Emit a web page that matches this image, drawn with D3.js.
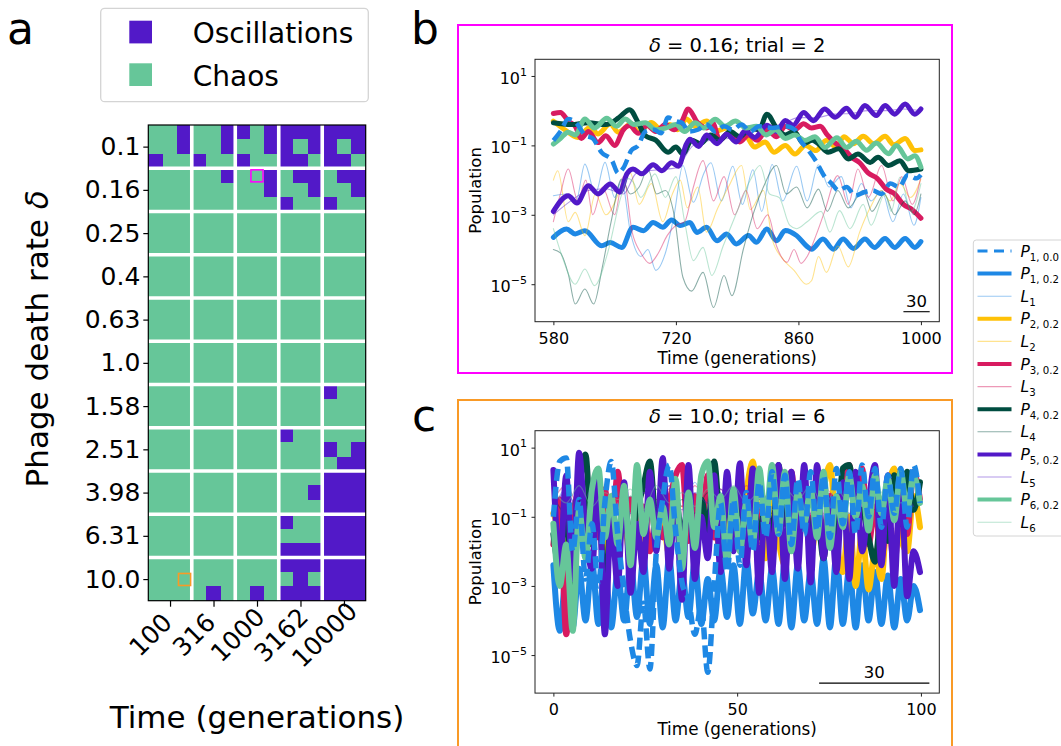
<!DOCTYPE html>
<html>
<head>
<meta charset="utf-8">
<script src="https://cdn.jsdelivr.net/npm/d3@7"></script>
<style>
  body { margin: 0; background: #fff; }
  svg { font-family: "DejaVu Sans", sans-serif; }
</style>
</head>
<body>
<svg id="fig" width="1061" height="746"></svg>
<script>
// ---------------- data ----------------
const deltaLabels = ["0.1","0.16","0.25","0.4","0.63","1.0","1.58","2.51","3.98","6.31","10.0"];
const timeLabels = ["100","316","1000","3162","10000"];

// 3x3 trials per (delta, time) block; 1 = oscillations, 0 = chaos
const regimeRows = [
  "001001101111111","001001001101101","100100100110110",
  "000001001011011","000000001001001","000000000100100",
  "000000000000000","000000000000000","000000000000000",
  "000000000000000","000000000000000","000000000000000",
  "000000000000000","000000000000000","000000000000000",
  "000000000000000","000000000000000","000000000000000",
  "000000000000100","000000000000000","000000000000000",
  "000000000100000","000000000000101","000000000000011",
  "000000000000111","000000000001111","000000000000111",
  "000000000100111","000000000000111","000000000111111",
  "000000000111111","000000000010111","000010010111111"
];

const runB = { delta: "0.16", time: "1000", trial: 2 };
const runC = { delta: "10.0", time: "100", trial: 6 };

// panel b: [generation, log10 population]
const P1_00_b = [[580,-0.86],[588,-0.6],[597,-0.24],[606,-0.35],[616,-0.7],[625,-0.8],[635,-1.2],[647,-1.44],[654,-1.8],[660,-1.65],[669,-1.15],[677,-1.0],[685,-0.6],[695,-0.55],[703,-0.65],[711,-0.2],[720,-0.3],[727,-0.35],[735,-0.6],[745,-0.55],[755,-0.4],[765,-0.6],[775,-0.45],[785,-0.55],[795,-0.4],[805,-0.6],[815,-0.45],[830,-0.5],[845,-0.45],[856,-0.55],[862,-0.85],[870,-1.1],[880,-1.45],[890,-1.9],[898,-2.1],[906,-2.3],[915,-2.2],[925,-2.45],[935,-2.35],[945,-2.3],[955,-2.4],[965,-2.1],[975,-2.2],[985,-1.85],[995,-1.95],[1000,-1.85]];
const P1_b = [[580,-3.65],[595,-3.41],[605,-3.55],[616,-3.46],[635,-3.89],[645,-3.8],[658,-3.94],[671,-3.36],[683,-3.46],[694,-3.22],[705,-3.36],[715,-3.15],[725,-3.31],[736,-3.22],[744,-3.51],[755,-3.36],[767,-3.75],[778,-3.55],[789,-3.84],[803,-3.6],[812,-3.79],[824,-3.41],[835,-3.75],[845,-3.45],[858,-3.6],[869,-3.89],[875,-3.99],[888,-3.7],[900,-3.99],[911,-3.7],[923,-3.97],[936,-3.7],[947,-3.94],[959,-3.68],[970,-3.94],[982,-3.68],[993,-3.94],[1000,-3.77]];
const P2_b = [[580,-0.3],[593,-0.55],[608,-0.77],[622,-0.48],[631,-0.67],[645,-0.38],[654,-0.62],[669,-0.38],[677,-0.62],[692,-0.34],[702,-0.53],[713,-0.4],[722,-0.55],[732,-0.24],[742,-0.45],[755,-0.3],[767,-0.58],[778,-0.5],[789,-0.8],[800,-0.75],[810,-1.05],[822,-0.9],[832,-1.2],[845,-1.0],[856,-1.25],[868,-1.0],[880,-1.15],[892,-0.85],[903,-1.05],[912,-0.75],[923,-0.95],[934,-0.74],[946,-0.95],[959,-0.74],[969,-0.98],[982,-0.8],[993,-1.15],[1000,-1.13]];
const P3_b = [[580,-0.08],[588,-0.05],[597,-0.3],[605,-0.45],[612,-0.8],[620,-0.6],[631,-0.92],[640,-0.72],[650,-1.0],[660,-0.55],[667,-0.43],[677,-0.65],[687,-0.43],[697,-0.6],[708,-0.4],[718,-0.55],[727,-0.3],[734,0.05],[745,-0.35],[755,-0.5],[762,-0.35],[770,-0.85],[780,-0.65],[793,-0.9],[803,-0.7],[813,-0.85],[824,-0.55],[835,-0.75],[845,-0.45],[856,-0.55],[866,-0.38],[875,-0.5],[885,-0.45],[893,-0.7],[903,-0.95],[912,-1.1],[921,-1.35],[930,-1.5],[940,-1.8],[950,-1.95],[960,-2.25],[970,-2.4],[980,-2.7],[990,-2.85],[1000,-3.1]];
const P4_b = [[580,-0.35],[600,-0.4],[620,-0.35],[640,-0.4],[655,-0.2],[667,0.03],[677,-0.35],[685,-0.72],[697,-0.85],[711,-1.2],[720,-1.05],[728,-1.25],[738,-0.85],[748,-0.95],[760,-0.7],[770,-0.85],[782,-0.6],[793,-0.75],[805,-0.5],[815,-0.55],[824,-0.1],[835,-0.5],[845,-0.7],[855,-0.6],[866,-0.95],[876,-0.85],[883,-0.96],[894,-1.2],[906,-1.1],[917,-1.39],[928,-1.25],[942,-1.49],[951,-1.34],[963,-1.58],[976,-1.44],[986,-1.73],[1000,-1.68]];
const P5_b = [[580,-2.9],[597,-2.45],[607,-2.66],[620,-2.16],[631,-2.4],[645,-2.11],[656,-2.35],[664,-1.82],[671,-1.68],[681,-1.82],[694,-1.56],[704,-1.73],[715,-1.5],[723,-1.6],[732,-0.96],[736,-0.82],[746,-1.03],[755,-0.7],[767,-0.95],[778,-0.68],[789,-0.9],[799,-0.58],[810,-0.77],[824,-0.42],[835,-0.6],[845,-0.28],[854,-0.42],[866,-0.05],[877,-0.29],[890,0.05],[902,-0.19],[915,0.07],[925,-0.19],[936,0.15],[949,-0.14],[959,0.15],[970,-0.1],[982,0.19],[993,-0.1],[1000,0.05]];
const P6_b = [[580,-0.96],[588,-0.8],[597,-0.62],[605,-0.7],[616,-0.24],[627,-0.5],[641,-0.22],[652,-0.45],[662,-0.24],[672,-0.4],[685,-0.35],[697,-0.55],[708,-0.5],[720,-0.4],[730,-0.6],[742,-0.35],[752,-0.5],[765,-0.25],[776,-0.45],[788,-0.3],[800,-0.5],[812,-0.45],[823,-0.7],[834,-0.55],[845,-0.8],[856,-0.7],[867,-0.86],[879,-0.75],[890,-1.06],[904,-0.78],[915,-1.06],[926,-0.88],[938,-1.14],[949,-0.93],[963,-1.24],[972,-1.0],[985,-1.39],[993,-1.3],[1000,-1.63]];
const L1_b = [[580,-2.45],[595,-2.4],[606,-2.6],[616,-1.54],[628,-2.4],[639,-1.49],[650,-2.5],[658,-2.0],[668,-3.5],[680,-4.2],[688,-4.0],[697,-4.6],[708,-4.1],[718,-3.0],[728,-1.58],[740,-2.64],[752,-1.8],[760,-1.5],[772,-2.6],[785,-1.6],[796,-2.7],[808,-1.7],[818,-2.9],[830,-1.55],[842,-2.6],[858,-1.6],[870,-2.6],[883,-1.56],[895,-2.2],[909,-1.9],[920,-2.8],[932,-2.1],[943,-2.6],[955,-2.3],[968,-3.2],[980,-2.4],[992,-3.3],[1000,-2.5]];
const L2_b = [[580,-2.0],[585,-1.73],[597,-3.2],[605,-2.93],[616,-3.6],[628,-2.4],[640,-3.0],[668,-1.8],[678,-2.7],[692,-2.1],[705,-3.2],[716,-2.4],[725,-2.0],[733,-2.8],[745,-2.2],[755,-3.5],[768,-2.8],[780,-2.2],[795,-1.58],[805,-2.85],[820,-2.3],[830,-3.7],[843,-4.3],[855,-4.6],[869,-5.0],[875,-4.9],[883,-4.2],[892,-4.66],[905,-3.9],[917,-4.5],[930,-3.5],[942,-2.8],[955,-2.3],[965,-2.6],[976,-2.1],[988,-2.5],[1000,-1.97]];
const L3_b = [[580,-3.2],[588,-2.4],[597,-1.68],[608,-2.6],[617,-2.0],[625,-3.0],[636,-2.2],[650,-3.0],[660,-1.9],[670,-3.5],[680,-4.1],[690,-4.4],[700,-4.1],[710,-3.6],[720,-3.3],[730,-3.2],[740,-2.2],[751,-1.44],[763,-2.6],[775,-1.9],[787,-3.0],[800,-2.3],[813,-3.4],[825,-3.0],[835,-3.9],[847,-4.37],[855,-4.0],[863,-4.4],[870,-4.2],[880,-3.6],[890,-2.9],[905,-1.87],[917,-2.7],[928,-1.68],[940,-2.5],[955,-1.58],[968,-2.6],[978,-1.9],[990,-2.7],[1000,-1.9]];
const L4_b = [[580,-4.0],[588,-4.1],[597,-4.7],[605,-5.57],[616,-5.14],[626,-5.57],[636,-4.5],[646,-3.2],[658,-1.97],[668,-2.4],[678,-2.2],[688,-1.68],[698,-2.4],[708,-2.3],[718,-3.0],[728,-4.8],[738,-5.2],[751,-4.66],[763,-5.67],[775,-4.75],[784,-5.33],[797,-4.0],[808,-3.0],[820,-2.2],[835,-1.58],[846,-2.4],[858,-2.2],[870,-2.8],[883,-2.26],[893,-2.9],[905,-2.3],[917,-2.8],[934,-2.3],[944,-2.9],[958,-2.4],[970,-3.0],[982,-2.6],[992,-3.0],[1000,-2.4]];
const L5_b = [[580,-3.0],[600,-2.6],[620,-2.3],[640,-2.25],[660,-2.4],[675,-1.8],[700,-1.7],[720,-1.65],[740,-1.0],[760,-0.85],[780,-0.8],[800,-0.7],[820,-0.5],[840,-0.4],[860,-0.2],[880,-0.2],[900,-0.1],[920,-0.08],[940,0.0],[960,0.0],[980,0.05],[1000,0.0]];
const L6_b = [[580,-3.4],[590,-4.2],[605,-5.0],[616,-4.56],[627,-5.04],[642,-4.1],[657,-2.5],[665,-1.95],[671,-2.05],[680,-2.5],[696,-1.82],[708,-2.5],[720,-1.9],[730,-3.2],[740,-4.32],[751,-3.94],[761,-4.75],[774,-3.9],[790,-2.9],[805,-2.0],[816,-1.58],[827,-2.4],[838,-2.5],[850,-3.3],[858,-3.4],[870,-3.2],[886,-2.9],[896,-3.5],[907,-2.88],[919,-3.4],[934,-2.7],[943,-3.3],[959,-2.4],[966,-2.9],[976,-1.92],[989,-2.9],[1000,-2.1]];

// panel c: log10 population at the sampled generations
const timeC = [0,1.75,3.5,5.25,7,8.75,10.5,12.25,14,15.75,17.5,19.25,21,22.75,24.5,26.25,28,29.75,31.5,33.25,35,36.75,38.5,40.25,42,43.75,45.5,47.25,49,50.75,52.5,54.25,56,57.75,59.5,61.25,63,64.75,66.5,68.25,70,71.75,73.5,75.25,77,78.75,80.5,82.25,84,85.75,87.5,89.25,91,92.75,94.5,96.25,98,99.75];
const timeCthin = [0,3.5,7,10.5,14,17.5,21,24.5,28,31.5,35,38.5,42,45.5,49,52.5,56,59.5,63,66.5,70,73.5,77,80.5,84,87.5,91,94.5,98];
const P1_00_c = [-1.0,0.6,0.7,-2.0,-0.5,-2.8,-1.2,-3.0,-0.6,0.6,-1.5,-3.2,-4.6,-5.3,-3.5,-5.4,-2.0,-0.5,0.5,-1.4,-2.9,-3.4,-4.4,-3.6,-5.5,-3.0,-0.6,-2.6,-0.5,-2.4,-0.3,-2.0,0.0,-1.6,0.3,-1.5,0.2,-1.8,0.1,-1.5,0.3,-1.4,0.2,-1.6,0.4,-1.2,0.3,-1.5,0.5,-1.0,0.4,-1.3,0.2,-0.9,0.4,-1.3,0.5,-0.6];
const P1_c = [-2.4,-4.3,-2.6,-4.2,-2.5,-4.0,-2.3,-4.1,-2.4,-4.2,-2.6,-4.0,-2.3,-3.9,-2.2,-4.1,-2.4,-4.2,-2.2,-4.0,-2.6,-3.9,-2.3,-4.1,-2.8,-4.0,-2.5,-3.9,-2.4,-4.1,-2.2,-3.8,-2.6,-4.0,-2.5,-4.1,-2.3,-4.2,-2.4,-4.0,-2.6,-4.1,-2.2,-4.2,-2.1,-4.1,-2.5,-4.2,-2.4,-4.0,-2.6,-4.1,-2.7,-4.2,-2.8,-4.0,-3.0,-3.7];
const P2_c = [-0.9,-1.4,-2.0,-1.0,-1.6,-0.8,-1.8,-1.0,-2.0,-0.9,-1.6,-1.2,-2.2,-1.0,-1.8,-0.6,-1.5,-1.1,-2.1,-0.8,-1.4,-0.9,-1.8,-1.0,-1.7,-1.1,-2.1,-1.3,-0.5,-1.9,-0.3,0.6,-1.4,-2.2,-0.5,-1.7,-2.4,-0.4,-1.2,-0.6,-2.1,-1.0,-0.2,0.5,-1.6,-2.6,-1.0,-3.0,-1.4,-3.1,-2.0,-2.8,-0.4,0.4,-1.6,-2.0,-0.4,-1.3];
const P3_c = [-1.8,-0.5,-4.4,-1.2,-0.3,-2.0,-0.8,-1.6,-0.2,-1.9,0.3,-1.4,-0.5,-1.2,-0.7,-2.0,-1.0,-1.6,-0.6,0.2,0.5,-1.7,-0.4,-1.3,0.2,-1.6,-0.9,-1.8,-1.1,-0.3,-1.6,0.3,-1.4,-0.6,-1.8,-0.5,-1.2,0.3,-1.6,-0.6,-1.4,-0.2,-1.8,-0.4,-1.6,-0.7,0.5,-1.2,0.4,-1.8,-0.7,-2.2,-1.0,-2.4,-0.6,-1.5,0.3,-0.5];
const P4_c = [-1.5,-2.5,-0.5,-3.4,-0.3,0.8,-1.8,-0.4,-3.2,-1.0,-2.2,-0.6,-1.6,-0.8,-0.1,0.6,-1.2,-0.6,-1.8,-0.4,-1.6,-0.7,-2.0,-0.5,-1.4,0.6,-1.2,-0.6,-1.5,-0.4,-1.8,-0.5,-1.6,-0.6,-1.7,0.5,-1.2,-0.6,-1.9,-0.5,-1.6,-0.9,-2.2,-0.6,-1.5,0.4,0.5,-1.0,-0.8,-1.6,-2.3,-0.9,-1.7,0.2,-1.2,0.3,-0.8,0.0];
const P5_c = [0.35,-2.4,0.2,-2.8,0.85,-1.5,-2.5,0.2,-4.4,-1.0,-3.0,0.0,-3.2,-1.2,-2.6,0.3,-2.0,0.7,-2.5,-0.4,-3.4,0.5,-2.8,-1.0,-2.2,0.2,-2.6,0.3,-2.0,0.55,-2.4,0.4,-3.2,-0.5,-2.6,0.5,-2.8,0.3,-2.5,0.5,-2.9,0.5,-2.2,-0.5,-2.6,0.0,-2.8,0.3,-2.0,-0.6,0.5,-2.4,0.2,-3.0,0.3,-3.3,-2.0,-2.6];
const P6_c = [-1.2,-3.0,-1.8,-4.3,-0.8,-2.2,-0.2,0.4,-1.6,-0.4,-1.8,-0.1,-2.4,0.5,-1.5,-0.5,-1.6,-0.7,-1.8,0.1,-2.5,-0.3,-1.9,0.2,0.6,-1.3,-0.4,-2.3,-0.2,-2.0,-0.6,-1.8,0.4,-1.2,0.5,-1.5,0.3,-2.0,-0.3,-1.2,-0.2,-1.6,0.3,-1.9,-0.4,-1.3,0.2,-1.0,-0.1,-1.4,0.2,-0.9,0.1,-1.1,0.3,-0.8,0.2,-0.6];
const L1_c = [-0.8,-0.2,-0.9,-0.1,-0.8,0.0,-0.9,-0.2,-1.0,-0.1,-0.7,0.0,-0.8,-0.3,-0.9,-0.1,-0.8,-0.2,-0.9,0.0,-0.7,-0.2,-0.9,-0.1,-0.8,-0.3,-1.0,-0.2,-0.6];
const L2_c = [-0.6,-1.0,-0.5,-1.1,-0.7,-0.9,-0.6,-1.2,-0.5,-1.0,-0.7,-1.1,-0.6,-0.9,-0.5,-1.0,-0.4,-0.8,-0.5,-1.1,-0.6,-0.9,-0.4,-1.0,-0.7,-1.2,-0.6,-0.9,-0.8];
const L3_c = [-0.5,-0.1,-0.7,-0.2,-0.6,-0.1,-0.8,-0.3,-0.5,-0.2,-0.7,-0.1,-0.6,-0.2,-0.8,-0.1,-0.5,-0.3,-0.6,-0.2,-0.7,-0.1,-0.5,-0.2,-0.6,-0.3,-0.8,-0.2,-0.5];
const L4_c = [-0.4,-0.9,-0.3,-1.0,-0.5,-0.8,-0.4,-0.9,-0.2,-1.0,-0.5,-0.9,-0.3,-0.8,-0.4,-1.0,-0.5,-0.9,-0.3,-0.8,-0.4,-1.1,-0.5,-0.9,-0.3,-0.8,-0.5,-1.0,-0.4];
const L5_c = [-0.7,-0.3,-0.8,-0.2,-0.6,-0.4,-0.9,-0.3,-0.7,-0.1,-0.8,-0.3,-0.6,-0.2,-0.7,-0.4,-0.8,-0.2,-0.6,-0.3,-0.9,-0.2,-0.7,-0.4,-0.6,-0.1,-0.8,-0.3,-0.7];
const L6_c = [-0.2,-0.6,-0.1,-0.7,-0.3,-0.5,-0.2,-0.8,-0.1,-0.6,-0.3,-0.7,-0.2,-0.5,-0.1,-0.6,-0.3,-0.8,-0.2,-0.5,-0.1,-0.7,-0.2,-0.6,-0.3,-0.5,-0.1,-0.6,-0.2];

const xTicksB = [580, 720, 860, 1000];
const xTicksC = [0, 50, 100];
const yTicksLog = [1, -1, -3, -5];

// ---------------- styling ----------------
const COL = { p1:"#1E88E5", p2:"#FFC107", p3:"#D81B60", p4:"#004D40", p5:"#5219C8", p6:"#66C699" };
const COL_OSC = "#5219C8", COL_CHAOS = "#66C699";
const MAGENTA = "#FF00FF", ORANGE = "#F99A26";

const svg = d3.select("#fig");

// panel letters
[["a", 7, 44], ["b", 411, 44], ["c", 412, 431]].forEach(([t, x, y]) =>
  svg.append("text").attr("x", x).attr("y", y).attr("font-size", 44).text(t));

// ---------------- panel a ----------------
const hmX = d3.scaleLinear().domain([0, 15]).range([148.3, 365.7]);
const hmY = d3.scaleLinear().domain([0, 33]).range([125, 600.7]);
const cells = [];
regimeRows.forEach((row, r) => row.split("").forEach((v, c) => cells.push({ r, c, osc: v === "1" })));

const gA = svg.append("g");
gA.selectAll("rect.cell").data(cells).join("rect")
  .attr("class", "cell")
  .attr("x", d => hmX(d.c)).attr("y", d => hmY(d.r))
  .attr("width", hmX(1) - hmX(0) + 0.5).attr("height", hmY(1) - hmY(0) + 0.5)
  .attr("fill", d => d.osc ? COL_OSC : COL_CHAOS)
  .attr("shape-rendering", "crispEdges");

// white separators between (delta, time) blocks
gA.selectAll("line.vsep").data(d3.range(1, timeLabels.length)).join("line")
  .attr("x1", d => hmX(3 * d)).attr("x2", d => hmX(3 * d))
  .attr("y1", hmY(0)).attr("y2", hmY(33))
  .attr("stroke", "#fff").attr("stroke-width", 3.6);
gA.selectAll("line.hsep").data(d3.range(1, deltaLabels.length)).join("line")
  .attr("y1", d => hmY(3 * d)).attr("y2", d => hmY(3 * d))
  .attr("x1", hmX(0)).attr("x2", hmX(15))
  .attr("stroke", "#fff").attr("stroke-width", 3.6);

// highlighted trials shown in panels b and c
[[runB, MAGENTA], [runC, ORANGE]].forEach(([run, color]) => {
  const r = deltaLabels.indexOf(run.delta) * 3 + Math.floor((run.trial - 1) / 3);
  const c = timeLabels.indexOf(run.time) * 3 + (run.trial - 1) % 3;
  gA.append("rect")
    .attr("x", hmX(c) + 1.2).attr("y", hmY(r) + 1.6)
    .attr("width", hmX(1) - hmX(0) - 2.4).attr("height", hmY(1) - hmY(0) - 2.4)
    .attr("fill", "none").attr("stroke", color).attr("stroke-width", 1.6);
});

gA.append("rect").attr("x", hmX(0)).attr("y", hmY(0))
  .attr("width", hmX(15) - hmX(0)).attr("height", hmY(33) - hmY(0))
  .attr("fill", "none").attr("stroke", "#000").attr("stroke-width", 1.2);

const deltaScale = d3.scalePoint().domain(deltaLabels).range([hmY(1.5), hmY(31.5)]);
const timeScale = d3.scalePoint().domain(timeLabels).range([hmX(1.5), hmX(13.5)]);

const axA_y = gA.append("g").attr("transform", `translate(${hmX(0)},0)`)
  .call(d3.axisLeft(deltaScale).tickSize(5).tickPadding(3));
axA_y.select(".domain").remove();
axA_y.selectAll("line").attr("stroke", "#000").attr("stroke-width", 1.2);
axA_y.selectAll("text").attr("font-size", 25).attr("font-family", "DejaVu Sans").attr("fill", "#000");

const axA_x = gA.append("g").attr("transform", `translate(0,${hmY(33)})`)
  .call(d3.axisBottom(timeScale).tickSize(6).tickFormat(""));
axA_x.select(".domain").remove();
axA_x.selectAll("line").attr("stroke", "#000").attr("stroke-width", 1.2);
axA_x.selectAll(".tick").append("text")
  .attr("transform", "translate(-20,34) rotate(-45)")
  .attr("text-anchor", "middle").attr("dy", "0.35em")
  .attr("font-size", 25).attr("font-family", "DejaVu Sans").attr("fill", "#000")
  .text(d => d);

gA.append("text").attr("x", (hmX(0) + hmX(15)) / 2).attr("y", 728)
  .attr("text-anchor", "middle").attr("font-size", 31).text("Time (generations)");
const yLab = gA.append("text").attr("transform", `translate(37,${(hmY(0) + hmY(33)) / 2 - 24}) rotate(-90)`)
  .attr("text-anchor", "middle").attr("dy", "0.35em").attr("font-size", 31);
yLab.append("tspan").text("Phage death rate ");
yLab.append("tspan").attr("font-style", "italic").text("δ");

// regime legend
const lgA = svg.append("g");
lgA.append("rect").attr("x", 100.7).attr("y", 8.3).attr("width", 267.6).attr("height", 93.4)
  .attr("rx", 4).attr("fill", "#fff").attr("stroke", "#d4d4d4").attr("stroke-width", 1.3);
[["Oscillations", COL_OSC, 20.7], ["Chaos", COL_CHAOS, 63.3]].forEach(([label, color, y]) => {
  lgA.append("rect").attr("x", 129.3).attr("y", y).attr("width", 22.7).attr("height", 22.7).attr("fill", color);
  lgA.append("text").attr("x", 192.7).attr("y", y + 22.5).attr("font-size", 28).text(label);
});

// ---------------- panels b and c ----------------
const PLOT = { left: 535, right: 939.3, height: 262.4 };

function drawPanel(cfg) {
  const g = svg.append("g");
  const top = cfg.top, bottom = cfg.top + PLOT.height;
  const x = d3.scaleLinear().domain(cfg.xDomain).range([PLOT.left, PLOT.right]);
  const y = d3.scaleLog().domain(cfg.yDomain).range([bottom, top]);

  g.append("clipPath").attr("id", cfg.id + "-clip").append("rect")
    .attr("x", PLOT.left).attr("y", top).attr("width", PLOT.right - PLOT.left).attr("height", PLOT.height);

  const line = d3.line()
    .x(d => x(d[0])).y(d => y(Math.pow(10, d[1])))
    .curve(d3.curveMonotoneX);

  const plotG = g.append("g").attr("clip-path", `url(#${cfg.id}-clip)`);
  cfg.series.forEach(s => {
    plotG.append("path").attr("d", line(s.data))
      .attr("fill", "none").attr("stroke", s.color)
      .attr("stroke-width", s.width).attr("stroke-opacity", s.opacity)
      .attr("stroke-dasharray", s.dash || null)
      .attr("stroke-linejoin", "round")
      .attr("stroke-linecap", s.dash ? "butt" : "round");
  });

  // axes
  const axX = g.append("g").attr("transform", `translate(0,${bottom})`)
    .call(d3.axisBottom(x).tickValues(cfg.xTicks).tickSize(3.5).tickPadding(7.5).tickFormat(d3.format("d")));
  axX.select(".domain").remove();
  axX.selectAll("line").attr("stroke", "#222");
  axX.selectAll("text").attr("font-size", 16).attr("font-family", "DejaVu Sans").attr("fill", "#000");

  const axY = g.append("g").attr("transform", `translate(${PLOT.left},0)`)
    .call(d3.axisLeft(y).tickValues(yTicksLog.map(e => Math.pow(10, e))).tickSize(3.5).tickFormat(() => ""));
  axY.select(".domain").remove();
  axY.selectAll("line").attr("stroke", "#222");
  axY.selectAll(".tick text").each(function (d) {
    const e = Math.round(Math.log10(d));
    const t = d3.select(this).attr("x", -8).attr("dy", 7.6)
      .attr("font-size", 16).attr("font-family", "DejaVu Sans").attr("fill", "#000");
    t.append("tspan").text("10");
    t.append("tspan").attr("dy", -8.3).attr("font-size", 11).text(e < 0 ? "\u2212" + (-e) : String(e));
  });

  g.append("rect").attr("x", PLOT.left).attr("y", top)
    .attr("width", PLOT.right - PLOT.left).attr("height", PLOT.height)
    .attr("fill", "none").attr("stroke", "#222").attr("stroke-width", 1);

  // scale bar (generations)
  const sb = cfg.scaleBar;
  g.append("line").attr("x1", x(sb[0])).attr("x2", x(sb[1]))
    .attr("y1", bottom - 10).attr("y2", bottom - 10).attr("stroke", "#000").attr("stroke-width", 1.1);
  g.append("text").attr("x", x((sb[0] + sb[1]) / 2)).attr("y", bottom - 15)
    .attr("text-anchor", "middle").attr("font-size", 16.5).text(sb[1] - sb[0]);

  // title and labels
  const cxm = (PLOT.left + PLOT.right) / 2;
  const title = g.append("text").attr("x", cxm).attr("y", top - 7.3)
    .attr("text-anchor", "middle").attr("font-size", 19.5);
  title.append("tspan").attr("font-style", "italic").text("δ");
  title.append("tspan").text(` = ${cfg.run.delta}; trial = ${cfg.run.trial}`);

  g.append("text").attr("x", cxm).attr("y", bottom + 42.3)
    .attr("text-anchor", "middle").attr("font-size", 16.8).text("Time (generations)");
  g.append("text").attr("transform", `translate(475,${top + PLOT.height / 2}) rotate(-90)`)
    .attr("text-anchor", "middle").attr("dy", "0.35em").attr("font-size", 16.5).text("Population");
}

function styleSeries(list, thick) {
  // list of [data, color, kind]
  return list.map(([data, color, kind]) => ({
    data, color,
    width: kind === "thin" ? 1.1 : (kind === "dash" ? thick - 0.5 : thick),
    opacity: kind === "thin" ? 0.45 : 1,
    dash: kind === "dash" ? "12,6" : null
  }));
}

drawPanel({
  id: "pb", top: 59.3, xDomain: [559, 1021], yDomain: [Math.pow(10, -6.08), Math.pow(10, 1.48)],
  xTicks: xTicksB, run: runB, scaleBar: [980, 1010],
  series: styleSeries([
    [P1_b, COL.p1, "thick"], [L1_b, COL.p1, "thin"],
    [P2_b, COL.p2, "thick"], [L2_b, COL.p2, "thin"],
    [P3_b, COL.p3, "thick"], [L3_b, COL.p3, "thin"],
    [P4_b, COL.p4, "thick"], [L4_b, COL.p4, "thin"],
    [P5_b, COL.p5, "thick"], [L5_b, COL.p5, "thin"],
    [P6_b, COL.p6, "thick"], [L6_b, COL.p6, "thin"],
    [P1_00_b, COL.p1, "dash"]
  ], 5)
});

drawPanel({
  id: "pc", top: 430.7, xDomain: [-5, 105], yDomain: [Math.pow(10, -6.1), Math.pow(10, 1.49)],
  xTicks: xTicksC, run: runC, scaleBar: [72.3, 102.3],
  series: styleSeries([
    [d3.zip(timeC, P1_c), COL.p1, "thick"], [d3.zip(timeCthin, L1_c), COL.p1, "thin"],
    [d3.zip(timeC, P2_c), COL.p2, "thick"], [d3.zip(timeCthin, L2_c), COL.p2, "thin"],
    [d3.zip(timeC, P3_c), COL.p3, "thick"], [d3.zip(timeCthin, L3_c), COL.p3, "thin"],
    [d3.zip(timeC, P4_c), COL.p4, "thick"], [d3.zip(timeCthin, L4_c), COL.p4, "thin"],
    [d3.zip(timeC, P5_c), COL.p5, "thick"], [d3.zip(timeCthin, L5_c), COL.p5, "thin"],
    [d3.zip(timeC, P6_c), COL.p6, "thick"], [d3.zip(timeCthin, L6_c), COL.p6, "thin"],
    [d3.zip(timeC, P1_00_c), COL.p1, "dash"]
  ], 6)
});

// panel frames
svg.append("rect").attr("x", 458).attr("y", 25).attr("width", 494).attr("height", 348)
  .attr("fill", "none").attr("stroke", MAGENTA).attr("stroke-width", 2);
svg.append("rect").attr("x", 458).attr("y", 400).attr("width", 494).attr("height", 360)
  .attr("fill", "none").attr("stroke", ORANGE).attr("stroke-width", 2);

// ---------------- series legend ----------------
const legendEntries = [
  ["P", "1, 0.0", COL.p1, "dash"], ["P", "1, 0.2", COL.p1, "thick"], ["L", "1", COL.p1, "thin"],
  ["P", "2, 0.2", COL.p2, "thick"], ["L", "2", COL.p2, "thin"],
  ["P", "3, 0.2", COL.p3, "thick"], ["L", "3", COL.p3, "thin"],
  ["P", "4, 0.2", COL.p4, "thick"], ["L", "4", COL.p4, "thin"],
  ["P", "5, 0.2", COL.p5, "thick"], ["L", "5", COL.p5, "thin"],
  ["P", "6, 0.2", COL.p6, "thick"], ["L", "6", COL.p6, "thin"]
];
const lg = svg.append("g");
lg.append("rect").attr("x", 973.3).attr("y", 240).attr("width", 100).attr("height", 296)
  .attr("rx", 3).attr("fill", "#fff").attr("stroke", "#d4d4d4").attr("stroke-width", 1);
const legY = d3.scaleLinear().domain([0, legendEntries.length - 1]).range([251, 522.2]);
legendEntries.forEach(([sym, sub, color, kind], i) => {
  const yy = legY(i);
  lg.append("line").attr("x1", 977.5).attr("x2", 1011.5).attr("y1", yy).attr("y2", yy)
    .attr("stroke", color)
    .attr("stroke-width", kind === "thin" ? 1.1 : (kind === "dash" ? 3.2 : 4))
    .attr("stroke-opacity", kind === "thin" ? 0.45 : 1)
    .attr("stroke-dasharray", kind === "dash" ? "10,6.5" : null);
  const t = lg.append("text").attr("x", 1020.5).attr("y", yy + 5.5).attr("font-size", 15.5);
  t.append("tspan").attr("font-style", "italic").text(sym);
  t.append("tspan").attr("dy", 4).attr("font-size", 10.2).text(sub);
});
</script>
</body>
</html>
